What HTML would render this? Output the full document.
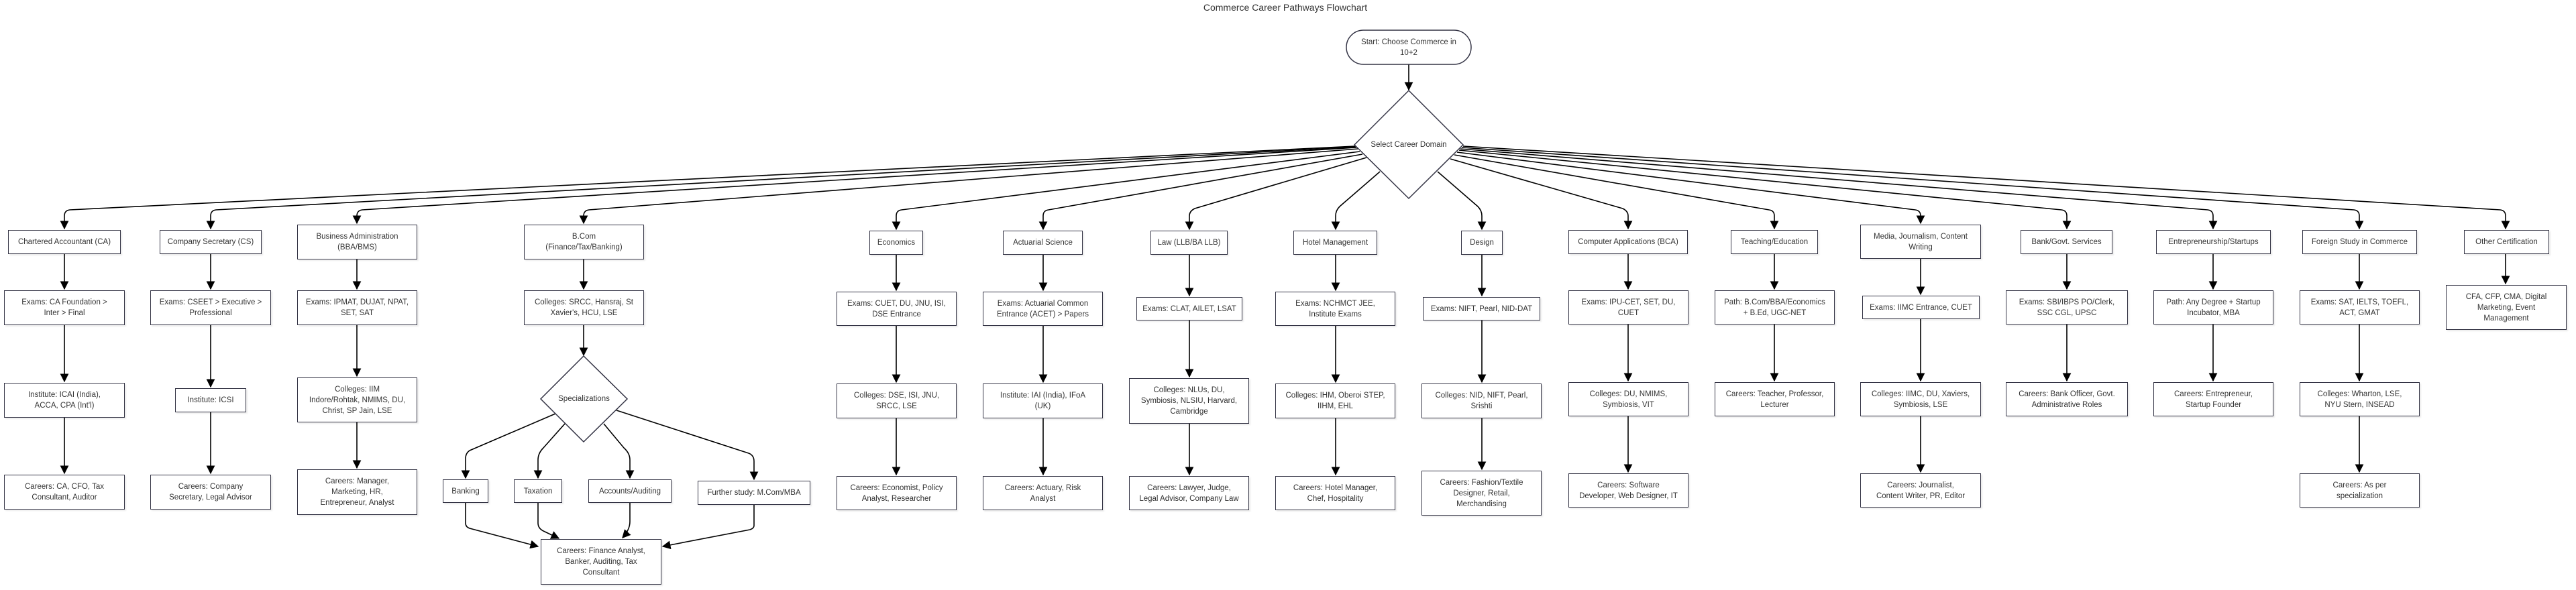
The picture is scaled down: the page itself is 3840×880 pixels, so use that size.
<!DOCTYPE html>
<html><head><meta charset="utf-8"><style>
html,body{margin:0;padding:0;background:#fff}
body{width:3840px;height:880px;position:relative;overflow:hidden;font-family:"Liberation Sans",sans-serif}
.n{position:absolute;box-sizing:border-box;border:1.5px solid #333344;background:#fff;display:flex;align-items:center;justify-content:center;text-align:center;font-size:11.5px;color:#333;line-height:16px;padding:0 6px;box-shadow:2px 2px 2px rgba(0,0,0,.08)}
.t{position:absolute;font-size:14px;color:#333;text-align:center;white-space:nowrap}
svg{position:absolute;left:0;top:0}
.d{position:absolute;display:flex;align-items:center;justify-content:center;font-size:11.5px;color:#333;text-align:center}
</style></head><body>
<svg width="3840" height="880" viewBox="0 0 3840 880">
<defs><marker id="a" viewBox="0 0 10 10" refX="9" refY="5" markerWidth="8" markerHeight="8" orient="auto-start-reverse"><path d="M0,0L10,5L0,10z" fill="#000"/></marker></defs>
<g fill="none" stroke="#000" stroke-width="1.6" marker-end="url(#a)">
<path d="M2100 96V134"/>
<path d="M2020 218L104 313Q96 314 96 322V341"/>
<path d="M2021 219L322 313Q314 314 314 322V341"/>
<path d="M2022 220L540 313Q532 314 532 322V333"/>
<path d="M2024 222L878 313Q870 314 870 322V333"/>
<path d="M2027 226L1344 313Q1336 314 1336 322V342"/>
<path d="M2031 230L1563 313Q1555 314 1555 322V342"/>
<path d="M2037 235L1781 311Q1773 315 1773 322V342"/>
<path d="M2057 256L1997 308Q1991 314 1991 322V342"/>
<path d="M2143 256L2203 308Q2209 314 2209 322V342"/>
<path d="M2162 237L2419 311Q2427 315 2427 322V341"/>
<path d="M2168 231L2637 313Q2645 314 2645 322V341"/>
<path d="M2172 227L2855 313Q2863 314 2863 322V333"/>
<path d="M2175 224L3073 313Q3081 314 3081 322V341"/>
<path d="M2177 222L3291 313Q3299 314 3299 322V341"/>
<path d="M2179 220L3509 313Q3517 314 3517 322V341"/>
<path d="M2181 218L3727 313Q3735 314 3735 322V341"/>
<path d="M96 379V431"/><path d="M96 485V569"/><path d="M96 623V706"/>
<path d="M314 379V431"/><path d="M314 485V577"/><path d="M314 615V706"/>
<path d="M532 387V431"/><path d="M532 485V561"/><path d="M532 630V698"/>
<path d="M870 387V431"/><path d="M870 485V530"/>
<path d="M1336 380V433"/><path d="M1336 486V570"/><path d="M1336 624V708"/>
<path d="M1555 380V433"/><path d="M1555 486V570"/><path d="M1555 624V708"/>
<path d="M1773 380V441"/><path d="M1773 478V562"/><path d="M1773 632V708"/>
<path d="M1991 380V433"/><path d="M1991 486V570"/><path d="M1991 624V708"/>
<path d="M2209 380V441"/><path d="M2209 478V570"/><path d="M2209 624V700"/>
<path d="M2427 379V431"/><path d="M2427 484V568"/><path d="M2427 621V704"/>
<path d="M2645 379V431"/><path d="M2645 484V568"/>
<path d="M2863 386V439"/><path d="M2863 476V568"/><path d="M2863 621V704"/>
<path d="M3081 379V431"/><path d="M3081 484V568"/>
<path d="M3299 379V431"/><path d="M3299 484V568"/>
<path d="M3517 379V431"/><path d="M3517 484V568"/><path d="M3517 621V704"/>
<path d="M3735 379V423"/>
<path d="M828 617L700 672Q694 676 694 684V713"/>
<path d="M842 632L810 668Q802 676 802 686V713"/>
<path d="M900 632L930 668Q939 676 939 686V713"/>
<path d="M919 612L1116 676Q1124 679 1124 688V715"/>
<path d="M694 750V780Q694 786 700 788L802 815"/>
<path d="M802 750V780Q802 788 810 792L833 803"/>
<path d="M939 750V778Q939 790 928 802"/>
<path d="M1124 753V784Q1124 788 1118 790L988 815"/>
</g>
<g fill="#fff" stroke="#333344" stroke-width="1.5">
<rect x="2007" y="45" width="186" height="51" rx="25.5"/>
<polygon points="2100,135 2181,216 2100,296 2019,216"/>
<polygon points="870,531 935,595 870,659 806,595"/>
</g>
</svg>
<div class="t" style="left:1716px;top:3px;width:400px">Commerce Career Pathways Flowchart</div>
<div class="d" style="left:2007px;top:45px;width:186px;height:51px;line-height:16px">Start: Choose Commerce in<br>10+2</div>
<div class="d" style="left:2019px;top:206px;width:162px;height:20px">Select Career Domain</div>
<div class="d" style="left:806px;top:585px;width:129px;height:20px">Specializations</div>

<div class="n" style="left:12px;top:343px;width:168px;height:36px">Chartered Accountant (CA)</div>
<div class="n" style="left:6px;top:433px;width:180px;height:52px">Exams: CA Foundation &gt;<br>Inter &gt; Final</div>
<div class="n" style="left:6px;top:571px;width:180px;height:52px">Institute: ICAI (India),<br>ACCA, CPA (Int'l)</div>
<div class="n" style="left:6px;top:708px;width:180px;height:52px">Careers: CA, CFO, Tax<br>Consultant, Auditor</div>

<div class="n" style="left:238px;top:343px;width:152px;height:36px">Company Secretary (CS)</div>
<div class="n" style="left:224px;top:433px;width:180px;height:52px">Exams: CSEET &gt; Executive &gt;<br>Professional</div>
<div class="n" style="left:261px;top:579px;width:106px;height:36px">Institute: ICSI</div>
<div class="n" style="left:224px;top:708px;width:180px;height:52px">Careers: Company<br>Secretary, Legal Advisor</div>

<div class="n" style="left:443px;top:335px;width:179px;height:52px">Business Administration<br>(BBA/BMS)</div>
<div class="n" style="left:443px;top:433px;width:179px;height:52px">Exams: IPMAT, DUJAT, NPAT,<br>SET, SAT</div>
<div class="n" style="left:443px;top:563px;width:179px;height:67px">Colleges: IIM<br>Indore/Rohtak, NMIMS, DU,<br>Christ, SP Jain, LSE</div>
<div class="n" style="left:443px;top:700px;width:179px;height:68px">Careers: Manager,<br>Marketing, HR,<br>Entrepreneur, Analyst</div>

<div class="n" style="left:781px;top:335px;width:179px;height:52px">B.Com<br>(Finance/Tax/Banking)</div>
<div class="n" style="left:781px;top:433px;width:179px;height:52px">Colleges: SRCC, Hansraj, St<br>Xavier's, HCU, LSE</div>
<div class="n" style="left:660px;top:715px;width:68px;height:35px">Banking</div>
<div class="n" style="left:766px;top:715px;width:72px;height:35px">Taxation</div>
<div class="n" style="left:877px;top:715px;width:124px;height:35px">Accounts/Auditing</div>
<div class="n" style="left:1040px;top:717px;width:168px;height:36px">Further study: M.Com/MBA</div>
<div class="n" style="left:806px;top:804px;width:180px;height:68px">Careers: Finance Analyst,<br>Banker, Auditing, Tax<br>Consultant</div>

<div class="n" style="left:1296px;top:344px;width:80px;height:36px">Economics</div>
<div class="n" style="left:1247px;top:435px;width:179px;height:51px">Exams: CUET, DU, JNU, ISI,<br>DSE Entrance</div>
<div class="n" style="left:1247px;top:572px;width:179px;height:52px">Colleges: DSE, ISI, JNU,<br>SRCC, LSE</div>
<div class="n" style="left:1247px;top:710px;width:179px;height:51px">Careers: Economist, Policy<br>Analyst, Researcher</div>

<div class="n" style="left:1495px;top:344px;width:119px;height:36px">Actuarial Science</div>
<div class="n" style="left:1465px;top:435px;width:179px;height:51px">Exams: Actuarial Common<br>Entrance (ACET) &gt; Papers</div>
<div class="n" style="left:1465px;top:572px;width:179px;height:52px">Institute: IAI (India), IFoA<br>(UK)</div>
<div class="n" style="left:1465px;top:710px;width:179px;height:51px">Careers: Actuary, Risk<br>Analyst</div>

<div class="n" style="left:1715px;top:344px;width:115px;height:36px">Law (LLB/BA LLB)</div>
<div class="n" style="left:1694px;top:443px;width:158px;height:35px">Exams: CLAT, AILET, LSAT</div>
<div class="n" style="left:1683px;top:564px;width:179px;height:68px">Colleges: NLUs, DU,<br>Symbiosis, NLSIU, Harvard,<br>Cambridge</div>
<div class="n" style="left:1683px;top:710px;width:179px;height:51px">Careers: Lawyer, Judge,<br>Legal Advisor, Company Law</div>

<div class="n" style="left:1928px;top:344px;width:125px;height:36px">Hotel Management</div>
<div class="n" style="left:1901px;top:435px;width:179px;height:51px">Exams: NCHMCT JEE,<br>Institute Exams</div>
<div class="n" style="left:1901px;top:572px;width:179px;height:52px">Colleges: IHM, Oberoi STEP,<br>IIHM, EHL</div>
<div class="n" style="left:1901px;top:710px;width:179px;height:51px">Careers: Hotel Manager,<br>Chef, Hospitality</div>

<div class="n" style="left:2178px;top:344px;width:62px;height:36px">Design</div>
<div class="n" style="left:2121px;top:443px;width:175px;height:35px">Exams: NIFT, Pearl, NID-DAT</div>
<div class="n" style="left:2119px;top:572px;width:179px;height:52px">Colleges: NID, NIFT, Pearl,<br>Srishti</div>
<div class="n" style="left:2119px;top:702px;width:179px;height:67px">Careers: Fashion/Textile<br>Designer, Retail,<br>Merchandising</div>

<div class="n" style="left:2338px;top:343px;width:178px;height:36px">Computer Applications (BCA)</div>
<div class="n" style="left:2338px;top:433px;width:179px;height:51px">Exams: IPU-CET, SET, DU,<br>CUET</div>
<div class="n" style="left:2338px;top:570px;width:179px;height:51px">Colleges: DU, NMIMS,<br>Symbiosis, VIT</div>
<div class="n" style="left:2338px;top:706px;width:179px;height:51px">Careers: Software<br>Developer, Web Designer, IT</div>

<div class="n" style="left:2580px;top:343px;width:130px;height:36px">Teaching/Education</div>
<div class="n" style="left:2556px;top:433px;width:179px;height:51px">Path: B.Com/BBA/Economics<br>+ B.Ed, UGC-NET</div>
<div class="n" style="left:2556px;top:570px;width:179px;height:51px">Careers: Teacher, Professor,<br>Lecturer</div>

<div class="n" style="left:2773px;top:335px;width:180px;height:51px">Media, Journalism, Content<br>Writing</div>
<div class="n" style="left:2776px;top:441px;width:175px;height:35px">Exams: IIMC Entrance, CUET</div>
<div class="n" style="left:2773px;top:570px;width:180px;height:51px">Colleges: IIMC, DU, Xaviers,<br>Symbiosis, LSE</div>
<div class="n" style="left:2773px;top:706px;width:180px;height:51px">Careers: Journalist,<br>Content Writer, PR, Editor</div>

<div class="n" style="left:3012px;top:343px;width:137px;height:36px">Bank/Govt. Services</div>
<div class="n" style="left:2990px;top:433px;width:182px;height:51px">Exams: SBI/IBPS PO/Clerk,<br>SSC CGL, UPSC</div>
<div class="n" style="left:2990px;top:570px;width:182px;height:51px">Careers: Bank Officer, Govt.<br>Administrative Roles</div>

<div class="n" style="left:3214px;top:343px;width:171px;height:36px">Entrepreneurship/Startups</div>
<div class="n" style="left:3210px;top:433px;width:179px;height:51px">Path: Any Degree + Startup<br>Incubator, MBA</div>
<div class="n" style="left:3210px;top:570px;width:179px;height:51px">Careers: Entrepreneur,<br>Startup Founder</div>

<div class="n" style="left:3432px;top:343px;width:171px;height:36px">Foreign Study in Commerce</div>
<div class="n" style="left:3428px;top:433px;width:179px;height:51px">Exams: SAT, IELTS, TOEFL,<br>ACT, GMAT</div>
<div class="n" style="left:3428px;top:570px;width:179px;height:51px">Colleges: Wharton, LSE,<br>NYU Stern, INSEAD</div>
<div class="n" style="left:3428px;top:706px;width:179px;height:51px">Careers: As per<br>specialization</div>

<div class="n" style="left:3673px;top:343px;width:127px;height:36px">Other Certification</div>
<div class="n" style="left:3646px;top:425px;width:180px;height:67px">CFA, CFP, CMA, Digital<br>Marketing, Event<br>Management</div>
</body></html>
